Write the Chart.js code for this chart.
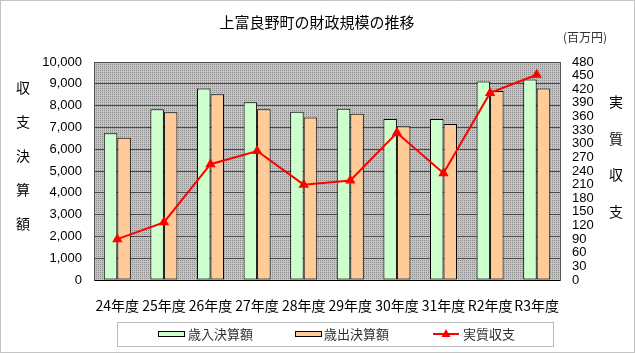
<!DOCTYPE html>
<html lang="ja">
<head>
<meta charset="utf-8">
<title>上富良野町の財政規模の推移</title>
<script src="https://cdn.jsdelivr.net/npm/chart.js@4"></script>
<style>
    html, body { margin: 0; padding: 0; background: #fff; }
    #wrap { width: 635px; height: 353px; }
</style>
</head>
<body>
<div id="wrap"><canvas id="financeChart" width="635" height="353"></canvas></div>
<script>
// データ（百万円）
const categories = ['24年度', '25年度', '26年度', '27年度', '28年度', '29年度', '30年度', '31年度', 'R2年度', 'R3年度'];
const revenue = [6730, 7830, 8790, 8150, 7720, 7860, 7390, 7390, 9110, 9200];
const expenditure = [6530, 7690, 8520, 7830, 7450, 7630, 7050, 7160, 8670, 8780];
const balance = [90, 127, 255, 284, 210, 219, 324, 235, 412, 452];

const FONT = '"Noto Sans CJK JP", "Noto Sans", sans-serif';
const NUM_FONT = '"Liberation Sans", Arial, sans-serif';

// 背景の網点パターン
function dotPattern(ctx, base, dot) {
    const c = document.createElement('canvas');
    c.width = 2; c.height = 2;
    const p = c.getContext('2d');
    p.fillStyle = base;
    p.fillRect(0, 0, 2, 2);
    p.fillStyle = dot;
    p.fillRect(0, 0, 1, 1);
    return ctx.createPattern(c, 'repeat');
}

// プロット背景・枠・タイトル・凡例
const decor = {
    id: 'decor',
    beforeDraw(chart) {
        const ctx = chart.ctx;
        const a = chart.chartArea;
        ctx.save();
        ctx.fillStyle = '#fff';
        ctx.fillRect(0, 0, chart.width, chart.height);
        ctx.fillStyle = dotPattern(ctx, '#c4c4c4', '#8c8c8c');
        ctx.fillRect(a.left, a.top, a.right - a.left, a.bottom - a.top);
        ctx.restore();
    },
    afterDraw(chart) {
        const ctx = chart.ctx;
        ctx.save();
        // 外枠
        ctx.strokeStyle = '#888';
        ctx.lineWidth = 1;
        ctx.setLineDash([1, 1]);
        ctx.strokeRect(0.5, 0.5, chart.width - 1, chart.height - 1);

        // タイトル
        ctx.setLineDash([]);
        ctx.fillStyle = '#000';
        ctx.textAlign = 'center';
        ctx.textBaseline = 'middle';
        ctx.font = '15px ' + FONT;
        ctx.fillText('上富良野町の財政規模の推移', 317, 22);
        ctx.font = '12px ' + FONT;
        ctx.fillStyle = '#333';
        ctx.fillText('(百万円)', 585, 37);

        // 軸タイトル（縦書き）
        ctx.fillStyle = '#000';
        ctx.font = '14px ' + FONT;
        '収支決算額'.split('').forEach((ch, i) => ctx.fillText(ch, 23, 88 + i * 34));
        '実質収支'.split('').forEach((ch, i) => ctx.fillText(ch, 616, 102 + i * 36.5));

        // 凡例
        ctx.strokeStyle = '#777';
        ctx.setLineDash([1, 1]);
        ctx.strokeRect(117.5, 322.5, 436, 24);
        ctx.setLineDash([]);
        ctx.textAlign = 'left';
        ctx.font = '13px ' + FONT;
        ctx.fillStyle = '#333';
        const ly = 334;
        const swatch = (x, color) => {
            ctx.fillStyle = color;
            ctx.fillRect(x, ly - 3, 27, 6);
            ctx.strokeStyle = '#000';
            ctx.lineWidth = 1;
            ctx.strokeRect(x + 0.5, ly - 2.5, 26, 5);
        };
        swatch(158, '#ccffcc');
        ctx.fillStyle = '#333';
        ctx.fillText('歳入決算額', 188, ly);
        swatch(295, '#ffcc99');
        ctx.fillStyle = '#333';
        ctx.fillText('歳出決算額', 324, ly);
        ctx.strokeStyle = '#ff0000';
        ctx.lineWidth = 2;
        ctx.beginPath();
        ctx.moveTo(433, ly);
        ctx.lineTo(459, ly);
        ctx.stroke();
        ctx.fillStyle = '#ff0000';
        ctx.beginPath();
        ctx.moveTo(446, ly - 5);
        ctx.lineTo(450.5, ly + 3);
        ctx.lineTo(441.5, ly + 3);
        ctx.closePath();
        ctx.fill();
        ctx.fillStyle = '#333';
        ctx.fillText('実質収支', 463, ly);
        ctx.restore();
    }
};

const ctx = document.getElementById('financeChart').getContext('2d');
const financeChart = new Chart(ctx, {
    data: {
        labels: categories,
        datasets: [{
            type: 'line',
            label: '実質収支',
            data: balance,
            yAxisID: 'y2',
            order: 0,
            borderColor: '#ff0000',
            backgroundColor: '#ff0000',
            borderWidth: 2,
            tension: 0,
            pointStyle: 'triangle',
            pointRadius: 4,
            pointHoverRadius: 4
        }, {
            type: 'bar',
            label: '歳入決算額',
            data: revenue,
            yAxisID: 'y',
            order: 1,
            backgroundColor: '#ccffcc',
            borderColor: '#000',
            borderWidth: 1,
            borderSkipped: false,
            categoryPercentage: 0.58,
            barPercentage: 1
        }, {
            type: 'bar',
            label: '歳出決算額',
            data: expenditure,
            yAxisID: 'y',
            order: 1,
            backgroundColor: '#ffcc99',
            borderColor: '#000',
            borderWidth: 1,
            borderSkipped: false,
            categoryPercentage: 0.58,
            barPercentage: 1
        }]
    },
    options: {
        responsive: false,
        animation: false,
        layout: { padding: { top: 62, bottom: 0, left: 0, right: 0 } },
        plugins: {
            legend: { display: false },
            tooltip: { enabled: false }
        },
        scales: {
            x: {
                grid: { display: false },
                border: { color: '#000', width: 1 },
                ticks: {
                    color: '#000',
                    padding: 9,
                    maxRotation: 0,
                    autoSkip: false,
                    font: { family: FONT, size: 14 }
                },
                afterFit(scale) { scale.height = 73; }
            },
            y: {
                position: 'left',
                min: 0,
                max: 10000,
                grid: { color: '#4a4a4a', drawTicks: false },
                border: { color: '#555' },
                ticks: {
                    stepSize: 1000,
                    color: '#000',
                    padding: 12,
                    font: { family: NUM_FONT, size: 13 },
                    callback: v => v.toLocaleString('en-US')
                },
                afterFit(scale) { scale.width = 94; }
            },
            y2: {
                position: 'right',
                min: 0,
                max: 480,
                grid: { drawOnChartArea: false, drawTicks: false },
                border: { color: '#555' },
                ticks: {
                    stepSize: 30,
                    autoSkip: false,
                    color: '#000',
                    padding: 12,
                    font: { family: NUM_FONT, size: 13 }
                },
                afterFit(scale) { scale.width = 75; }
            }
        }
    },
    plugins: [decor]
});
</script>
</body>
</html>
